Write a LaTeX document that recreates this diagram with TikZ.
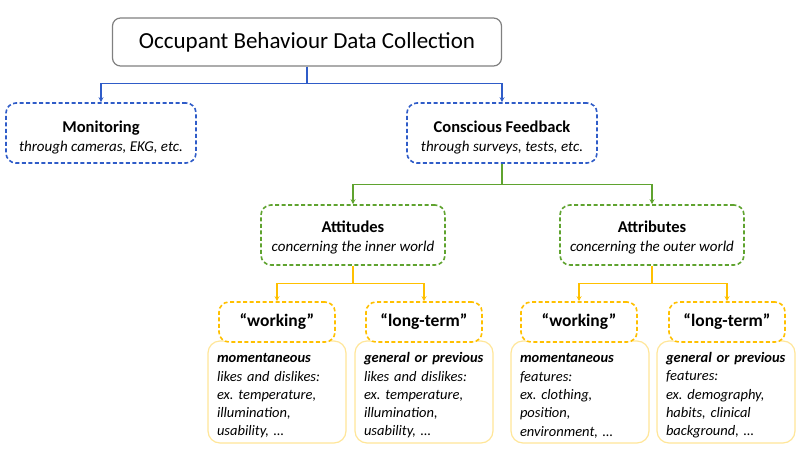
\documentclass[tikz,border=0pt]{standalone}
\usepackage{fontspec}
\setmainfont{Carlito}
\usetikzlibrary{arrows.meta}
\frenchspacing

\definecolor{obblue}{HTML}{2F5CC8}
\definecolor{obgreen}{HTML}{5FA32F}
\definecolor{oborange}{HTML}{FFC000}
\definecolor{oblight}{HTML}{FFE699}
\definecolor{obgray}{HTML}{808080}

% head line of a box, with a bit of room above it
\newcommand{\boxhead}[2]{\rule{0pt}{#1}\textbf{\fontsize{16.5}{19}\selectfont #2}}

\tikzset{
  mainbox/.style={draw=obgray, line width=1.2pt, rounded corners=8pt,
    minimum width=389pt, minimum height=48pt,
    font=\fontsize{23}{27}\selectfont},
  dashbox/.style={line width=1.6pt, dash pattern=on 4pt off 2.5pt,
    rounded corners=10pt, fill=white, align=center, inner sep=0pt,
    font=\fontsize{15}{19}\selectfont},
  bluebox/.style={dashbox, draw=obblue, minimum width=190pt, minimum height=60pt},
  greenbox/.style={dashbox, draw=obgreen, minimum width=184pt, minimum height=60pt},
  orangebox/.style={dashbox, draw=oborange, minimum width=116pt, minimum height=40pt,
    font=\fontsize{17.5}{22}\selectfont\bfseries},
  detailbox/.style={draw=oblight, line width=1.2pt, rounded corners=12pt, fill=white,
    minimum width=138pt, minimum height=102pt, text width=120pt, align=left,
    inner sep=0pt, font=\fontsize{14.5}{18.3}\selectfont\itshape},
  link/.style={line width=1.1pt, -{Stealth[length=5pt,width=5pt]}}
}

\begin{document}
\begin{tikzpicture}[x=1pt, y=-1pt]

\useasboundingbox (0, 0) rectangle (800, 450);

% draw the top box
\node[mainbox] (collect) at (307, 42) {Occupant Behaviour Data Collection};

% draw the blue boxes
\node[bluebox] (monitor) at (101, 133)
  {\boxhead{21pt}{Monitoring}\\ \textit{through cameras, EKG, etc.}};
\node[bluebox] (feedback) at (502, 133)
  {\boxhead{21pt}{Conscious Feedback}\\ \textit{through surveys, tests, etc.}};

% draw the green boxes
\node[greenbox] (attitude) at (353, 235)
  {\boxhead{16pt}{Attitudes}\\ \textit{concerning the inner world}};
\node[greenbox] (attribute) at (652, 235)
  {\boxhead{16pt}{Attributes}\\ \textit{concerning the outer world}};

% draw the detail boxes
\node[detailbox] (tdetwork) at (277, 392)
  {\rule{0pt}{17pt}\textbf{momentaneous}\\ likes and dislikes:\\ ex. temperature,\\ illumination,\\ usability, \dots};
\node[detailbox] (tdetlong) at (424, 392)
  {\rule{0pt}{17pt}\textbf{general or previous}\\ likes and dislikes:\\ ex. temperature,\\ illumination,\\ usability, \dots};
\node[detailbox] (bdetwork) at (580, 392)
  {\rule{0pt}{17pt}\textbf{momentaneous}\\ features:\\ ex. clothing,\\ position,\\ environment, \dots};
\node[detailbox] (bdetlong) at (726, 392)
  {\rule{0pt}{17pt}\textbf{general or previous}\\ features:\\ ex. demography,\\ habits, clinical\\ background, \dots};

% draw the orange boxes
\node[orangebox] (twork) at (277, 322) {“working”};
\node[orangebox] (tlong) at (424, 322) {“long-term”};
\node[orangebox] (bwork) at (579, 322) {“working”};
\node[orangebox] (blong) at (727, 322) {“long-term”};

% draw the connectors
\draw[link, obblue] (collect.south) -- ++(0, 17) -| (monitor.north);
\draw[link, obblue] (collect.south) -- ++(0, 17) -| (feedback.north);
\draw[link, obgreen] (feedback.south) -- ++(0, 21) -| (attitude.north);
\draw[link, obgreen] (feedback.south) -- ++(0, 21) -| (attribute.north);
\draw[link, oborange] (attitude.south) -- ++(0, 18) -| (twork.north);
\draw[link, oborange] (attitude.south) -- ++(0, 18) -| (tlong.north);
\draw[link, oborange] (attribute.south) -- ++(0, 18) -| (bwork.north);
\draw[link, oborange] (attribute.south) -- ++(0, 18) -| (blong.north);

\end{tikzpicture}
\end{document}
